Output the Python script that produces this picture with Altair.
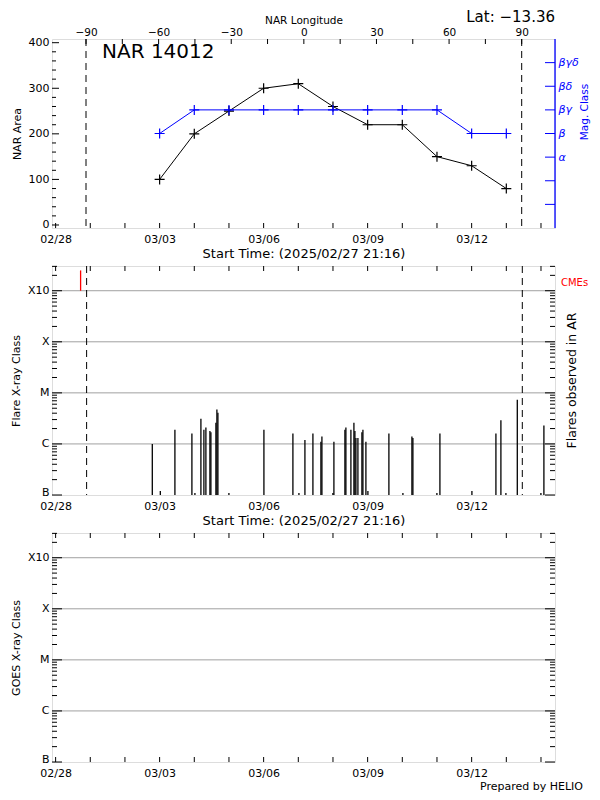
import json
import altair as alt
import pandas as pd

FONT = "DejaVu Sans"
BLUE = "#0000ff"
RED = "#ff0000"
GRID = "#a0a0a0"

# ---------------- data ----------------
ar_label = ["NAR 14012"]
lat_label = ["Lat: \u221213.36"]
start_label = "Start Time: (2025/02/27 21:16)"
credit_label = ["Prepared by HELIO"]
cme_label = ["CMEs"]
flares_label = ["Flares observed in AR"]

x_start = "2025-02-27T21:30:00"
x_end = "2025-03-14T09:42:00"
lon_range = [-104.05, 103.76]

area_dates = ["2025-03-03T00:00:00", "2025-03-04T00:00:00", "2025-03-05T00:00:00",
              "2025-03-06T00:00:00", "2025-03-07T00:00:00", "2025-03-08T00:00:00",
              "2025-03-09T00:00:00", "2025-03-10T00:00:00", "2025-03-11T00:00:00",
              "2025-03-12T00:00:00", "2025-03-13T00:00:00"]
area_values = [100, 200, 250, 300, 310, 260, 220, 220, 150, 130, 80]
mag_classes = ["β", "βγ", "βγ", "βγ", "βγ", "βγ", "βγ", "βγ", "βγ", "β", "β"]
mag_levels = ["", "", "α", "β", "βγ", "βδ", "βγδ"]
area_major = [0, 100, 200, 300, 400]
area_minor = [20, 40, 60, 80, 120, 140, 160, 180, 220, 240, 260, 280, 320, 340, 360, 380]

flare_times = [
    "2025-03-02T18:56:00", "2025-03-03T00:29:00", "2025-03-03T10:35:00", "2025-03-03T22:21:00",
    "2025-03-04T00:26:00", "2025-03-04T04:35:00", "2025-03-04T06:39:00", "2025-03-04T08:02:00",
    "2025-03-04T10:49:00", "2025-03-04T11:30:00", "2025-03-04T14:58:00", "2025-03-04T15:39:00",
    "2025-03-04T16:21:00", "2025-03-04T23:58:00", "2025-03-06T00:12:00", "2025-03-06T20:16:00",
    "2025-03-07T00:26:00", "2025-03-07T04:35:00", "2025-03-07T10:07:00", "2025-03-07T15:39:00",
    "2025-03-07T16:21:00", "2025-03-07T23:57:00", "2025-03-08T00:39:00", "2025-03-08T08:16:00",
    "2025-03-08T08:57:00", "2025-03-08T12:25:00", "2025-03-08T14:30:00", "2025-03-08T15:11:00",
    "2025-03-08T15:53:00", "2025-03-08T17:16:00", "2025-03-08T20:02:00", "2025-03-08T20:44:00",
    "2025-03-08T22:48:00", "2025-03-09T00:11:00", "2025-03-09T14:43:00", "2025-03-10T00:25:00",
    "2025-03-10T06:39:00", "2025-03-10T07:20:00", "2025-03-10T23:57:00", "2025-03-11T02:02:00",
    "2025-03-12T00:11:00", "2025-03-12T16:48:00", "2025-03-12T20:15:00", "2025-03-12T23:43:00",
    "2025-03-13T07:36:00", "2025-03-13T23:57:00", "2025-03-14T02:01:00"]
flare_classes = [
    "C1.0", "B1.2", "C1.9", "C1.6",
    "B1.1", "C3.1", "C1.9", "C2.1",
    "C1.8", "C1.7", "C2.6", "C4.7",
    "C4.1", "B1.1", "C1.9", "C1.6",
    "B1.1", "C1.2", "C1.6", "C1.1",
    "C1.4", "B1.1", "C1.1", "C1.9",
    "C2.1", "C1.9", "C2.6", "C1.8",
    "C1.3", "C1.3", "C1.7", "C1.9",
    "C1.1", "B1.2", "C1.6", "B1.1",
    "C1.4", "C1.3", "B1.1", "C1.6",
    "B1.2", "C1.6", "C2.9", "B1.1",
    "C7.3", "B1.1", "C2.3"]

cme_times = ["2025-02-28T17:18:00"]
cme_bottom = [1.0e-3]
cme_top = [2.5e-3]
limb_times = ["2025-02-28T21:28:00", "2025-03-13T11:04:00"]
limb_longitudes = [-90, 90]
lon_labels = [-90, -60, -30, 0, 30, 60, 90]
lon_ticks = [-90, -75, -60, -45, -30, -15, 0, 15, 30, 45, 60, 75, 90]
date_labels = ["2025-02-28", "2025-03-03", "2025-03-06", "2025-03-09", "2025-03-12"]
day_ticks = [d.strftime("%Y-%m-%dT00:00:00") for d in pd.date_range("2025-02-28", "2025-03-14", freq="D")]
goes_levels = ["B", "C", "M", "X", "X10"]
goes_flux = [1e-7, 1e-6, 1e-5, 1e-4, 1e-3]
flux_top = 3.05e-3
goes_minor = [m * f for f in goes_flux for m in range(2, 10) if m * f <= flux_top]

# ---------------- helpers ----------------
W, H1, H2, H3 = 503, 189, 229, 229


def dt(s):
    t = pd.Timestamp(s)
    return alt.DateTime(year=t.year, month=t.month, date=t.day, hours=t.hour, minutes=t.minute)


letter_base = {"A": 1e-8, "B": 1e-7, "C": 1e-6, "M": 1e-5, "X": 1e-4}
flares_df = pd.DataFrame({"t": flare_times, "cls": flare_classes})
flares_df["flux"] = [letter_base[c[0]] * float(c[1:]) for c in flare_classes]
flares_df["base"] = goes_flux[0]

area_df = pd.DataFrame({"t": area_dates, "area": area_values})
mag_df = pd.DataFrame({"t": area_dates, "cls": mag_classes})
mag_df["level"] = [mag_levels.index(c) + 1 for c in mag_classes]

date_scale = alt.Scale(domain=[dt(x_start), dt(x_end)])
area_scale = alt.Scale(domain=[-6.6, 408.1], nice=False, zero=False)
mag_scale = alt.Scale(domain=[0, 8], nice=False, zero=False)
lon_scale = alt.Scale(domain=lon_range, nice=False, zero=False)
flux_scale = alt.Scale(type="log", domain=[goes_flux[0], flux_top], nice=False)

base_axis = dict(domain=False, ticks=False, tickSize=0, grid=False, labelFont=FONT, titleFont=FONT,
                 titleColor="black", titleFontWeight="normal", labelFlush=False, labelOverlap=False)


def date_axis(title):
    kw = dict(values=[dt(d) for d in date_labels], format="%m/%d", orient="bottom",
              labelFontSize=11, labelColor="black", labelPadding=5, **base_axis)
    if title:
        kw.update(title=title, titleFontSize=13, titlePadding=3)
    else:
        kw.update(title=None)
    return alt.Axis(**kw)


def flux_axis(title):
    return alt.Axis(values=goes_flux, orient="left", title=title,
                    labelExpr=json.dumps(goes_levels) + "[round(log(datum.value)/LN10) + 7]",
                    labelBaseline={"condition": {"test": "datum.value < 2e-7", "value": "alphabetic"},
                                   "value": "middle"},
                    labelFontSize=11, labelColor="black", labelPadding=3, titleFontSize=11,
                    titlePadding=6, **base_axis)


area_axis = alt.Axis(values=area_major, orient="left", title="NAR Area", labelFontSize=11,
                     labelColor="black", labelPadding=3, titleFontSize=11, titlePadding=6, **base_axis)
mag_axis = alt.Axis(values=[3, 4, 5, 6, 7], orient="right", title=None,
                    labelExpr=json.dumps(mag_levels, ensure_ascii=False) + "[datum.value - 1]",
                    labelColor=BLUE, labelFontStyle="italic", labelFontSize=11, labelPadding=3,
                    **base_axis)
lon_axis = alt.Axis(values=lon_labels, orient="top", title="NAR Longitude",
                    labelExpr="replace(datum.label, '-', '\u2212')", labelFontSize=10.5,
                    labelColor="black", labelPadding=2, titleFontSize=10.5, titlePadding=2, **base_axis)


def text(df_values, **kw):
    return alt.Chart(pd.DataFrame({"s": df_values})).mark_text(font=FONT, **kw)


# ---------------- panel 1: NAR area & magnetic class ----------------
ax1 = date_axis(start_label)
xa = alt.X("t:T", scale=date_scale, axis=ax1)
ya = lambda f: alt.Y(f, scale=area_scale, axis=area_axis)

a_line = alt.Chart(area_df).mark_line(color="black", strokeWidth=1).encode(x=xa, y=ya("area:Q"))
PLUS = "M-1,0L1,0M0,-1L0,1"
a_pts = alt.Chart(area_df).mark_point(shape=PLUS, size=100, filled=False, color="black",
                                      strokeWidth=1.2, opacity=1).encode(x=xa, y=ya("area:Q"))
a_major = alt.Chart(pd.DataFrame({"area": area_major})).mark_rule(color="black").encode(
    y=ya("area:Q"), x=alt.value(0), x2=alt.value(7))
a_minor = alt.Chart(pd.DataFrame({"area": area_minor})).mark_rule(color="black").encode(
    y=ya("area:Q"), x=alt.value(0), x2=alt.value(4))
a_days = alt.Chart(pd.DataFrame({"t": day_ticks})).mark_rule(color="black").encode(
    x=xa, y=alt.value(H1), y2=alt.value(H1 - 5))
ar_txt = text(ar_label, fontSize=20, align="left", baseline="alphabetic", color="black").encode(
    text="s:N", x=alt.value(50), y=alt.value(19))
lat_txt = text(lat_label, fontSize=15, align="right", baseline="alphabetic", color="black").encode(
    text="s:N", x=alt.value(W), y=alt.value(-17))
layer_a = alt.layer(a_line, a_pts, a_major, a_minor, a_days, ar_txt, lat_txt)

xb = alt.X("t:T", scale=date_scale, axis=None)
yb = lambda f: alt.Y(f, scale=mag_scale, axis=mag_axis)
b_line = alt.Chart(mag_df).mark_line(color=BLUE, strokeWidth=1).encode(x=xb, y=yb("level:Q"))
b_pts = alt.Chart(mag_df).mark_point(shape=PLUS, size=100, filled=False, color=BLUE,
                                     strokeWidth=1.2, opacity=1).encode(x=xb, y=yb("level:Q"))
b_ticks = alt.Chart(pd.DataFrame({"level": list(range(1, len(mag_levels) + 1))})).mark_rule(
    color=BLUE).encode(y=yb("level:Q"), x=alt.value(W - 10), x2=alt.value(W))
b_edge = alt.Chart(pd.DataFrame({"level": [0]})).mark_rule(color=BLUE, strokeWidth=1.3).encode(
    x=alt.value(W), y=alt.value(0), y2=alt.value(H1))
mag_title = text(["Mag. Class"], fontSize=10.5, angle=270, align="center", baseline="middle",
                 color=BLUE).encode(text="s:N", x=alt.value(W + 30), y=alt.value(73))
layer_b = alt.layer(b_line, b_pts, b_ticks, b_edge, mag_title)

xc = alt.X("lon:Q", scale=lon_scale, axis=lon_axis)
c_limb = alt.Chart(pd.DataFrame({"lon": limb_longitudes})).mark_rule(
    color="black", strokeDash=[7, 5]).encode(x=xc)
c_ticks = alt.Chart(pd.DataFrame({"lon": lon_ticks})).mark_rule(color="black").encode(
    x=xc, y=alt.value(0), y2=alt.value(5))
layer_c = alt.layer(c_limb, c_ticks)

panel1 = alt.layer(layer_a, layer_b, layer_c).resolve_scale(
    x="independent", y="independent").properties(width=W, height=H1)


# ---------------- panels 2/3: X-ray class ----------------
def xray_panel(H, xaxis, ytitle, with_flares):
    xf = alt.X("t:T", scale=date_scale, axis=xaxis)
    yax = flux_axis(ytitle)
    yf = lambda f: alt.Y(f, scale=flux_scale, axis=yax)
    layers = [
        alt.Chart(pd.DataFrame({"flux": goes_flux[1:]})).mark_rule(color=GRID, strokeWidth=1).encode(
            y=yf("flux:Q")),
    ]
    if with_flares:
        layers += [
            alt.Chart(flares_df).mark_rule(color="black", strokeWidth=1.3).encode(
                x=xf, y=yf("flux:Q"), y2="base:Q"),
            alt.Chart(pd.DataFrame({"t": cme_times, "lo": cme_bottom, "hi": cme_top})).mark_rule(
                color=RED, strokeWidth=1.3).encode(x=xf, y=yf("lo:Q"), y2="hi:Q"),
            alt.Chart(pd.DataFrame({"t": limb_times})).mark_rule(color="black", strokeDash=[7, 5]).encode(
                x=xf),
        ]
    maj = pd.DataFrame({"flux": goes_flux})
    mnr = pd.DataFrame({"flux": goes_minor})
    days = pd.DataFrame({"t": day_ticks})
    layers += [
        alt.Chart(maj).mark_rule(color="black").encode(y=yf("flux:Q"), x=alt.value(0), x2=alt.value(10)),
        alt.Chart(mnr).mark_rule(color="black").encode(y=yf("flux:Q"), x=alt.value(0), x2=alt.value(5)),
        alt.Chart(maj).mark_rule(color="black").encode(y=yf("flux:Q"), x=alt.value(W - 10), x2=alt.value(W)),
        alt.Chart(mnr).mark_rule(color="black").encode(y=yf("flux:Q"), x=alt.value(W - 5), x2=alt.value(W)),
        alt.Chart(days).mark_rule(color="black").encode(x=xf, y=alt.value(0), y2=alt.value(5)),
    ]
    if with_flares:
        layers += [
            text(cme_label, fontSize=10, align="left", baseline="middle", color=RED).encode(
                text="s:N", x=alt.value(W + 6), y=alt.value(17)),
            text(flares_label, fontSize=12.5, angle=270, align="center", baseline="middle",
                 color="black").encode(text="s:N", x=alt.value(W + 17), y=alt.value(H / 2)),
        ]
    else:
        layers += [
            alt.Chart(days).mark_rule(color="black").encode(x=xf, y=alt.value(H), y2=alt.value(H - 5)),
            text(credit_label, fontSize=11, align="right", baseline="middle", color="black").encode(
                text="s:N", x=alt.value(W + 28), y=alt.value(H + 25)),
        ]
    return alt.layer(*layers).properties(width=W, height=H)


panel2 = xray_panel(H2, date_axis(start_label), "Flare X-ray Class", True)
panel3 = xray_panel(H3, date_axis(None), "GOES X-ray Class", False)

chart = alt.vconcat(panel1, panel2, panel3, spacing=38, bounds="flush").resolve_scale(
    x="independent", y="independent").properties(
    padding={"left": 1, "top": 1, "right": 0, "bottom": 0}
).configure_view(stroke="black", strokeWidth=1).configure(background="white")

chart.save("out.html", embed_options={"renderer": "svg", "actions": False})
